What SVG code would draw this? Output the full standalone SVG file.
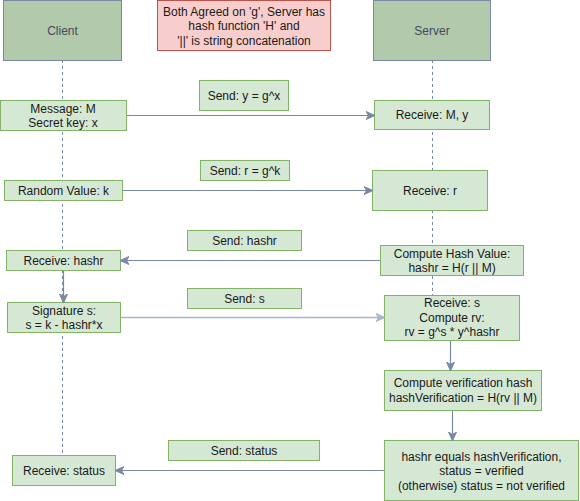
<svg xmlns="http://www.w3.org/2000/svg" width="580" height="501" viewBox="0 0 580 501">
<defs>
<marker id="ah" markerWidth="10" markerHeight="10" refX="8" refY="5" orient="auto" markerUnits="userSpaceOnUse">
<path d="M0,1 L9,5 L0,9 L2.5,5 Z" fill="#788AA3" stroke="#788AA3" stroke-width="1"/>
</marker>
<marker id="ahl" markerWidth="10" markerHeight="10" refX="8" refY="5" orient="auto" markerUnits="userSpaceOnUse">
<path d="M0,1 L9,5 L0,9 L2.5,5 Z" fill="#A9B6C8" stroke="#A9B6C8" stroke-width="1"/>
</marker>
</defs>
<style>
text{font-family:"Liberation Sans",Arial,sans-serif;font-size:12px;fill:#1a1a1a;text-anchor:middle;dominant-baseline:central}
.hdr{fill:#B2C9AB;stroke:#788AA3;stroke-width:1}
.hdr-t{fill:#46495D}
.box{fill:#d5e8d4;stroke:#82b366;stroke-width:1}
.note{fill:#f8cecc;stroke:#b85450;stroke-width:1}
.life{stroke:#788AA3;stroke-width:1;stroke-dasharray:3 3;fill:none}
.conn{stroke:#788AA3;stroke-width:1.2;fill:none;marker-end:url(#ah)}
.connl{stroke:#A9B6C8;stroke-width:1.4;fill:none;marker-end:url(#ahl)}
</style>
<rect width="580" height="501" fill="#ffffff"/>
<g id="lifelines">
<line class="life" x1="62.5" y1="60" x2="62.5" y2="455"/>
<line class="life" x1="432.5" y1="60" x2="432.5" y2="296"/>
</g>
<g id="client-header"><rect class="hdr" x="3.5" y="0.5" width="118" height="60"/><text class="hdr-t" x="62.5" y="30.5">Client</text></g>
<g id="server-header"><rect class="hdr" x="373.5" y="0.5" width="117" height="60"/><text class="hdr-t" x="432" y="30.5">Server</text></g>
<g id="note"><rect class="note" x="157.5" y="0.5" width="173" height="50"/><text x="244" y="11.5">Both Agreed on 'g', Server has</text><text x="244" y="26">hash function 'H' and</text><text x="244" y="40.5">'||' is string concatenation</text></g>

<g id="message"><rect class="box" x="0.5" y="100.5" width="126" height="30"/><text x="63" y="108.5">Message: M</text><text x="63" y="123">Secret key: x</text></g>
<g id="receive-my"><rect class="box" x="374.5" y="100.5" width="115" height="29"/><text x="432" y="115">Receive: M, y</text></g>
<g id="lbl-send-y"><rect class="box" x="199.5" y="80.5" width="89" height="30"/><text x="244" y="95.5">Send: y = g^x</text></g>

<g id="random"><rect class="box" x="4.5" y="180.5" width="118" height="20"/><text x="63.5" y="190.5">Random Value: k</text></g>
<g id="receive-r"><rect class="box" x="372.5" y="170.5" width="115" height="40"/><text x="430" y="190.5">Receive: r</text></g>
<g id="lbl-send-r"><rect class="box" x="200.5" y="160.5" width="89" height="20"/><text x="245" y="170.5">Send: r = g^k</text></g>

<g id="receive-hashr"><rect class="box" x="6.5" y="250.5" width="114" height="20"/><text x="63.5" y="260.5">Receive: hashr</text></g>
<g id="compute-hash"><rect class="box" x="380.5" y="245.5" width="143" height="30"/><text x="452" y="253.5">Compute Hash Value:</text><text x="452" y="268">hashr = H(r || M)</text></g>
<g id="lbl-send-hashr"><rect class="box" x="187.5" y="230.5" width="114" height="20"/><text x="244.5" y="240.5">Send: hashr</text></g>

<g id="signature"><rect class="box" x="7.5" y="302.5" width="113" height="30"/><text x="64" y="310.5">Signature s:</text><text x="64" y="325">s = k - hashr*x</text></g>
<g id="receive-s"><rect class="box" x="384.5" y="295.5" width="135" height="45"/><text x="452" y="303">Receive: s</text><text x="452" y="317.5">Compute rv:</text><text x="452" y="332">rv = g^s * y^hashr</text></g>
<g id="lbl-send-s"><rect class="box" x="187.5" y="288.5" width="114" height="20"/><text x="244.5" y="298.5">Send: s</text></g>

<g id="compute-verif"><rect class="box" x="384.5" y="370.5" width="157" height="40"/><text x="463" y="383">Compute verification hash</text><text x="463" y="397.5">hashVerification = H(rv || M)</text></g>
<g id="status-check"><rect class="box" x="384.5" y="440.5" width="194" height="60"/><text x="481.5" y="456.5">hashr equals hashVerification,</text><text x="481.5" y="471">status = verified</text><text x="481.5" y="485.5">(otherwise) status = not verified</text></g>
<g id="lbl-send-status"><rect class="box" x="168.5" y="440.5" width="151" height="20"/><text x="244" y="450.5">Send: status</text></g>
<g id="receive-status"><rect class="box" x="12.5" y="455.5" width="103" height="30"/><text x="64" y="470.5">Receive: status</text></g>

<g id="connectors">
<line class="conn" x1="127" y1="115.5" x2="374" y2="115.5"/>
<line class="conn" x1="123" y1="190.5" x2="372" y2="190.5"/>
<line class="conn" x1="380" y1="260.5" x2="121" y2="260.5"/>
<line class="conn" x1="63.5" y1="271" x2="63.5" y2="302"/>
<line class="connl" x1="121" y1="317.5" x2="384" y2="317.5"/>
<line class="conn" x1="450.5" y1="341" x2="450.5" y2="370"/>
<line class="conn" x1="452.5" y1="411" x2="452.5" y2="440"/>
<line class="conn" x1="384" y1="470.5" x2="116" y2="470.5"/>
</g>
</svg>
